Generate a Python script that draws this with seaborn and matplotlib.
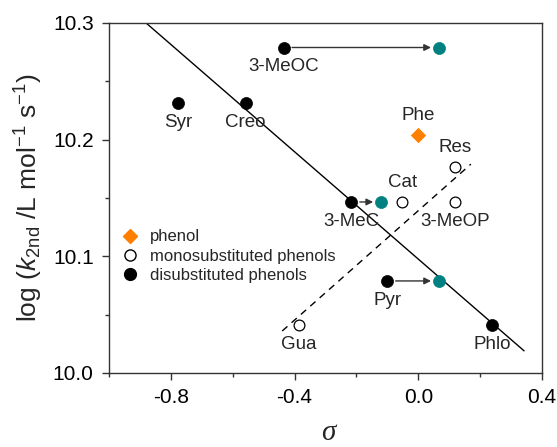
import matplotlib
matplotlib.use("Agg")
import matplotlib.pyplot as plt
import seaborn as sns
import pandas as pd
from matplotlib.lines import Line2D

# ---- data ----
phenol_names = ["Phe"]
phenol_sigma = [0.0]
phenol_logk = [10.204]

mono_names = ["Res", "Cat", "3-MeOP", "Gua"]
mono_sigma = [0.119, -0.052, 0.119, -0.387]
mono_logk = [10.1766, 10.1466, 10.1466, 10.0411]

di_names = ["3-MeOC", "Syr", "Creo", "3-MeC", "Pyr", "Phlo"]
di_sigma = [-0.435, -0.777, -0.558, -0.216, -0.100, 0.239]
di_logk = [10.279, 10.2314, 10.2314, 10.1466, 10.0789, 10.0411]

# shifted (corrected sigma) points, teal
shift_from = ["3-MeOC", "3-MeC", "Pyr"]
shift_sigma = [0.068, -0.119, 0.068]

# fit lines (endpoints)
fit_di_sigma = [-0.88, 0.342]
fit_di_logk = [10.300, 10.019]
fit_mono_sigma = [-0.44, 0.17]
fit_mono_logk = [10.036, 10.179]

label_above = ["Phe", "Res", "Cat"]

# ---- style ----
sns.set_style("ticks")
plt.rcParams["font.family"] = ["Liberation Sans", "DejaVu Sans"]
plt.rcParams["mathtext.fontset"] = "custom"
plt.rcParams["mathtext.rm"] = "Liberation Sans"
plt.rcParams["mathtext.it"] = "Liberation Sans:italic"

ORANGE = "#ff7f00"
TEAL = "#008080"

fig = plt.figure(figsize=(5.57, 4.47), dpi=100)
ax = fig.add_axes([109 / 557, 1 - 373 / 447, 433 / 557, 350 / 447])

df_ph = pd.DataFrame({"sigma": phenol_sigma, "logk": phenol_logk})
df_mo = pd.DataFrame({"sigma": mono_sigma, "logk": mono_logk})
df_di = pd.DataFrame({"sigma": di_sigma, "logk": di_logk})
shift_logk = [di_logk[di_names.index(n)] for n in shift_from]
shift_orig = [di_sigma[di_names.index(n)] for n in shift_from]
df_sh = pd.DataFrame({"sigma": shift_sigma, "logk": shift_logk})

# fit lines
sns.lineplot(x=fit_di_sigma, y=fit_di_logk, ax=ax, color="black", lw=1.0, zorder=2)
sns.lineplot(x=fit_mono_sigma, y=fit_mono_logk, ax=ax, color="black", lw=1.0,
             zorder=2, linestyle=(0, (5, 4)))

# arrows
for x0, x1, yv in zip(shift_orig, shift_sigma, shift_logk):
    ax.annotate("", xy=(x1, yv), xytext=(x0, yv),
                arrowprops=dict(arrowstyle="-|>", color="#333333", lw=1.0,
                                shrinkA=6, shrinkB=6, mutation_scale=10),
                zorder=3)

sns.scatterplot(data=df_ph, x="sigma", y="logk", ax=ax, marker="D", s=70,
                color=ORANGE, edgecolor="white", linewidth=0.5, zorder=5)
sns.scatterplot(data=df_mo, x="sigma", y="logk", ax=ax, marker="o", s=60,
                facecolor="white", edgecolor="black", linewidth=0.9, zorder=5)
sns.scatterplot(data=df_di, x="sigma", y="logk", ax=ax, marker="o", s=75,
                color="black", edgecolor="black", linewidth=0.5, zorder=5)
sns.scatterplot(data=df_sh, x="sigma", y="logk", ax=ax, marker="o", s=75,
                color=TEAL, edgecolor=TEAL, linewidth=0.5, zorder=5)

# labels
names = phenol_names + mono_names + di_names
xs = phenol_sigma + mono_sigma + di_sigma
ys = phenol_logk + mono_logk + di_logk
for n, x, y in zip(names, xs, ys):
    dy = 14 if n in label_above else -14
    ax.annotate(n, (x, y), xytext=(0, dy), textcoords="offset points",
                ha="center", va="center", fontsize=13.5, zorder=6)

ax.set_xlim(-1.0, 0.4)
ax.set_ylim(10.0, 10.3)
ax.set_xticks([-0.8, -0.4, 0.0, 0.4])
ax.set_xticks([-1.0, -0.6, -0.2, 0.2], minor=True)
ax.set_yticks([10.0, 10.1, 10.2, 10.3])
ax.set_yticks([10.05, 10.15, 10.25], minor=True)
ax.set_xticklabels(["-0.8", "-0.4", "0.0", "0.4"])
ax.set_yticklabels(["10.0", "10.1", "10.2", "10.3"])
ax.tick_params(axis="both", which="major", direction="out", length=5, width=1,
               labelsize=15, colors="#333333", labelcolor="black", pad=6)
ax.tick_params(axis="both", which="minor", direction="out", length=3, width=1,
               colors="#333333")
for sp in ax.spines.values():
    sp.set_visible(True)
    sp.set_color("#333333")
    sp.set_linewidth(1.0)

ax.set_xlabel("")
ax.set_ylabel(r"log ($k_{\rm 2nd}$ /L mol$^{-1}$ s$^{-1}$)", fontsize=19, labelpad=6)
fig.text(328 / 557, 1 / 447, "σ", fontsize=21, style="italic",
         family=["Liberation Serif", "DejaVu Serif"], ha="center", va="bottom")

handles = [
    Line2D([], [], marker="D", linestyle="none", color=ORANGE, markersize=7),
    Line2D([], [], marker="o", linestyle="none", markerfacecolor="white",
           markeredgecolor="black", markersize=8),
    Line2D([], [], marker="o", linestyle="none", color="black", markersize=8.5),
]
ax.legend(handles, ["phenol", "monosubstituted phenols", "disubstituted phenols"],
          loc="center left", bbox_to_anchor=(-0.01, 0.334), frameon=False,
          fontsize=12, handletextpad=0.6, labelspacing=0.25, handlelength=1.2)

fig.savefig("out.png", dpi=100)
